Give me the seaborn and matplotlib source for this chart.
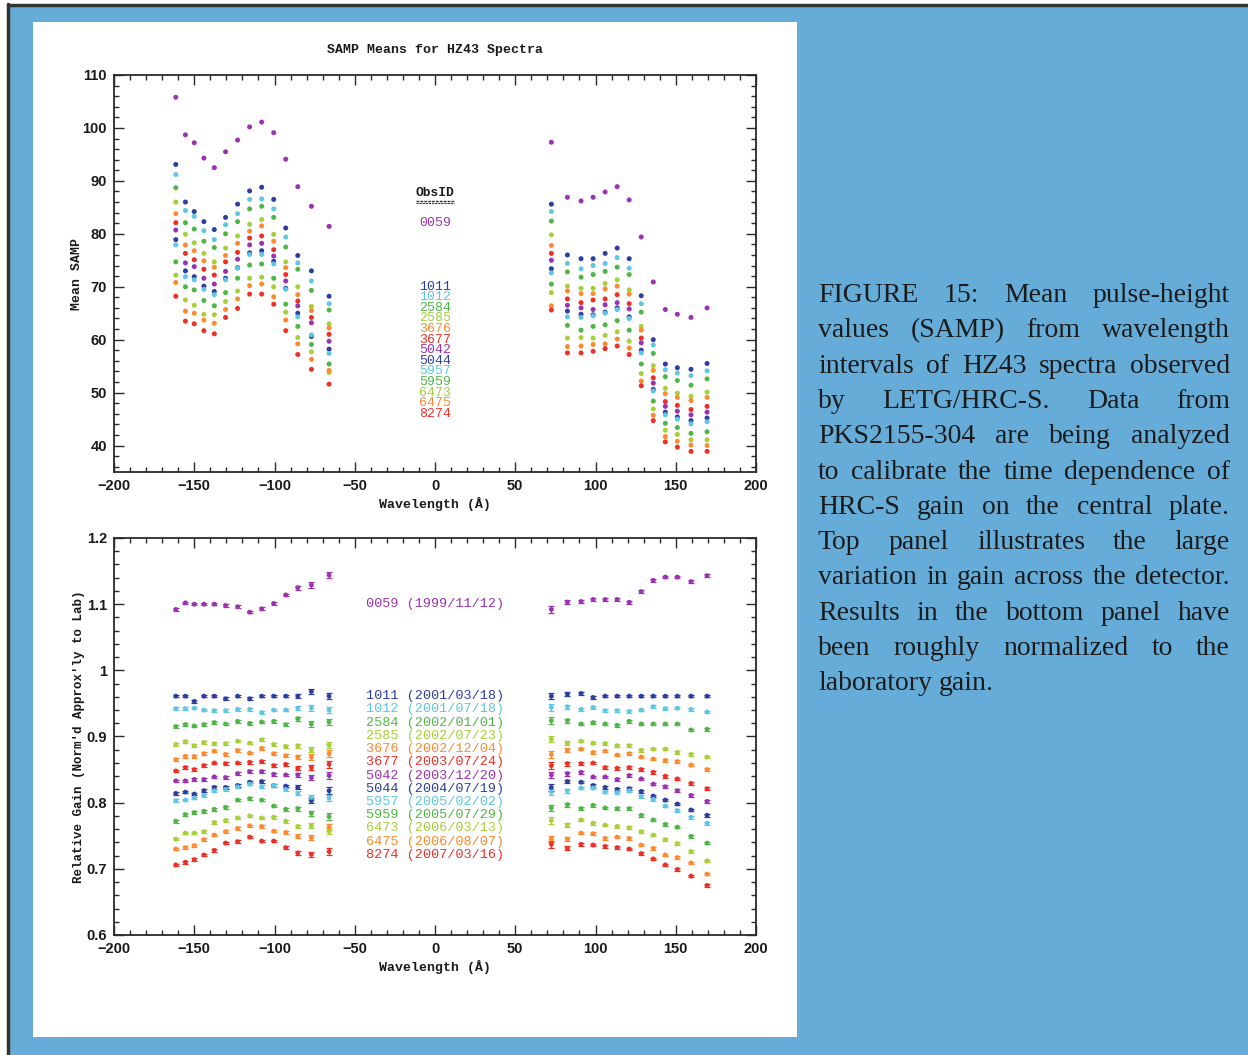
import numpy as np
import pandas as pd
import matplotlib
matplotlib.use("Agg")
import matplotlib.pyplot as plt
from matplotlib.patches import Rectangle
from matplotlib.lines import Line2D
from matplotlib.ticker import MultipleLocator, FuncFormatter
import seaborn as sns

# ---------------------------------------------------------------- data
WAVELENGTH = [-161.5, -155.5, -150.0, -144.0, -137.5, -130.5, -123.0, -115.5,
              -108.0, -100.5, -93.0, -85.5, -77.0, -66.0,
              72.5, 82.5, 91.0, 98.5, 106.0, 113.5, 121.0, 128.5, 136.0,
              143.5, 151.0, 159.5, 169.5]

OBSIDS = ["0059", "1011", "1012", "2584", "2585", "3676", "3677",
          "5042", "5044", "5957", "5959", "6473", "6475", "8274"]
DATES = ["1999/11/12", "2001/03/18", "2001/07/18", "2002/01/01", "2002/07/23",
         "2002/12/04", "2003/07/24", "2003/12/20", "2004/07/19", "2005/02/02",
         "2005/07/29", "2006/03/13", "2006/08/07", "2007/03/16"]

# Mean SAMP (top panel)
samp_0059 = [105.8, 98.7, 97.2, 94.3, 92.5, 95.5, 97.7, 100.2, 101.1, 99.1, 94.1, 88.9, 85.2, 81.4,
             97.3, 86.9, 86.2, 86.9, 87.9, 88.9, 86.4, 79.4, 70.9, 65.7, 64.8, 64.2, 66.0]
samp_1011 = [93.1, 86.0, 84.2, 82.3, 80.8, 83.1, 85.6, 88.1, 88.8, 86.5, 81.1, 75.9, 73.0, 68.2,
             85.6, 76.0, 75.3, 75.3, 76.3, 77.3, 75.3, 68.3, 60.0, 55.4, 54.7, 54.4, 55.5]
samp_1012 = [91.2, 84.4, 83.3, 80.6, 78.9, 81.7, 83.8, 86.5, 86.6, 84.7, 79.4, 74.5, 71.1, 66.8,
             84.2, 74.4, 73.4, 74.0, 74.4, 75.5, 73.5, 66.8, 59.0, 54.3, 53.7, 53.2, 54.1]
samp_2584 = [88.7, 82.1, 80.9, 78.6, 77.4, 80.0, 82.3, 84.7, 85.2, 83.1, 77.5, 73.3, 69.3, 65.6,
             82.4, 72.8, 71.8, 72.3, 72.9, 73.7, 72.3, 65.2, 57.4, 53.0, 52.3, 51.4, 52.6]
samp_2585 = [86.0, 79.9, 78.3, 76.3, 74.7, 77.3, 79.6, 81.8, 82.7, 79.9, 74.7, 70.0, 66.3, 63.0,
             79.8, 70.1, 69.7, 69.7, 70.6, 71.3, 69.4, 62.5, 55.1, 50.8, 49.9, 49.3, 50.1]
samp_3676 = [83.8, 77.9, 76.8, 74.9, 73.7, 75.9, 78.2, 80.5, 81.5, 78.6, 73.6, 68.5, 65.5, 62.2,
             77.8, 69.2, 68.7, 68.7, 69.6, 70.1, 68.6, 61.8, 54.2, 49.8, 49.1, 48.5, 49.1]
samp_3677 = [82.1, 76.3, 75.1, 73.3, 72.2, 74.7, 76.5, 79.2, 79.6, 77.0, 72.3, 67.3, 64.2, 61.0,
             76.3, 67.7, 67.0, 67.5, 67.7, 68.5, 66.8, 60.3, 52.8, 48.3, 47.6, 46.8, 47.4]
samp_5042 = [80.7, 74.5, 73.8, 71.6, 70.5, 72.9, 75.2, 77.9, 78.2, 75.8, 71.1, 66.4, 63.2, 59.7,
             75.0, 66.5, 66.0, 65.7, 66.6, 67.0, 65.8, 59.4, 51.8, 47.4, 46.5, 45.8, 46.3]
samp_5044 = [78.9, 73.0, 71.9, 70.1, 69.1, 71.6, 73.6, 76.4, 76.8, 74.8, 69.7, 65.0, 60.6, 58.2,
             73.4, 65.4, 64.8, 64.7, 65.2, 66.0, 64.3, 58.0, 50.6, 46.3, 45.4, 44.7, 45.2]
samp_5957 = [77.9, 71.9, 71.3, 69.5, 68.5, 71.3, 73.5, 76.1, 76.1, 74.3, 69.5, 64.3, 60.9, 57.4,
             72.6, 64.3, 64.2, 64.5, 65.0, 65.7, 64.0, 57.5, 50.3, 45.8, 45.0, 44.1, 44.5]
samp_5959 = [74.7, 70.0, 69.4, 67.4, 66.4, 68.9, 71.6, 74.1, 74.3, 71.6, 66.7, 62.5, 59.1, 55.4,
             70.5, 62.7, 61.8, 62.5, 62.8, 63.6, 61.8, 55.4, 48.4, 44.2, 43.4, 42.3, 42.6]
samp_6473 = [72.2, 67.5, 66.5, 64.8, 64.7, 67.2, 69.2, 71.6, 71.8, 70.0, 65.2, 60.4, 57.7, 53.8,
             68.9, 60.3, 60.4, 60.3, 60.8, 61.5, 59.7, 53.6, 46.9, 42.9, 42.1, 41.1, 41.1]
samp_6475 = [70.8, 65.4, 65.0, 63.7, 63.1, 65.7, 67.7, 70.2, 70.5, 68.1, 63.7, 59.2, 56.3, 54.2,
             66.4, 58.7, 58.8, 59.1, 59.2, 60.1, 58.4, 52.2, 45.7, 41.7, 40.8, 40.1, 40.0]
samp_8274 = [68.2, 63.5, 63.0, 61.7, 61.1, 64.2, 65.9, 68.6, 68.6, 66.7, 61.7, 57.2, 54.4, 51.6,
             65.6, 57.5, 57.5, 57.8, 58.3, 58.8, 57.2, 51.3, 44.7, 40.7, 39.7, 38.9, 38.9]

# Relative gain (bottom panel)
gain_0059 = [1.092, 1.102, 1.100, 1.100, 1.100, 1.098, 1.096, 1.088, 1.093, 1.101, 1.114, 1.125, 1.129, 1.144,
             1.092, 1.103, 1.104, 1.107, 1.107, 1.107, 1.103, 1.119, 1.136, 1.141, 1.141, 1.134, 1.143]
gain_1011 = [0.961, 0.961, 0.953, 0.961, 0.961, 0.957, 0.961, 0.957, 0.961, 0.961, 0.961, 0.961, 0.968, 0.961,
             0.961, 0.964, 0.965, 0.959, 0.961, 0.961, 0.961, 0.961, 0.961, 0.961, 0.961, 0.961, 0.961]
gain_1012 = [0.942, 0.942, 0.943, 0.940, 0.939, 0.939, 0.941, 0.941, 0.936, 0.940, 0.940, 0.943, 0.943, 0.940,
             0.944, 0.945, 0.941, 0.944, 0.939, 0.939, 0.938, 0.940, 0.945, 0.942, 0.943, 0.941, 0.937]
gain_2584 = [0.915, 0.918, 0.916, 0.918, 0.921, 0.919, 0.923, 0.920, 0.922, 0.923, 0.918, 0.927, 0.919, 0.922,
             0.924, 0.924, 0.919, 0.921, 0.919, 0.917, 0.923, 0.919, 0.919, 0.919, 0.919, 0.910, 0.911]
gain_2585 = [0.888, 0.892, 0.886, 0.891, 0.889, 0.889, 0.893, 0.890, 0.895, 0.888, 0.885, 0.886, 0.880, 0.887,
             0.896, 0.890, 0.893, 0.890, 0.889, 0.886, 0.886, 0.879, 0.881, 0.881, 0.876, 0.873, 0.869]
gain_3676 = [0.865, 0.870, 0.870, 0.874, 0.878, 0.873, 0.879, 0.875, 0.882, 0.874, 0.871, 0.869, 0.869, 0.874,
             0.873, 0.879, 0.881, 0.876, 0.878, 0.872, 0.874, 0.869, 0.866, 0.864, 0.862, 0.857, 0.850]
gain_3677 = [0.848, 0.853, 0.850, 0.856, 0.860, 0.859, 0.860, 0.861, 0.862, 0.856, 0.858, 0.852, 0.853, 0.858,
             0.856, 0.859, 0.859, 0.860, 0.853, 0.852, 0.853, 0.850, 0.846, 0.840, 0.836, 0.829, 0.821]
gain_5042 = [0.833, 0.833, 0.835, 0.835, 0.839, 0.838, 0.844, 0.847, 0.847, 0.843, 0.842, 0.842, 0.838, 0.841,
             0.842, 0.844, 0.846, 0.839, 0.839, 0.835, 0.841, 0.836, 0.828, 0.824, 0.818, 0.811, 0.802]
gain_5044 = [0.814, 0.816, 0.813, 0.818, 0.823, 0.823, 0.826, 0.831, 0.832, 0.826, 0.825, 0.823, 0.803, 0.818,
             0.823, 0.832, 0.831, 0.826, 0.823, 0.820, 0.821, 0.817, 0.810, 0.804, 0.798, 0.789, 0.781]
gain_5957 = [0.803, 0.804, 0.807, 0.811, 0.818, 0.820, 0.824, 0.828, 0.824, 0.826, 0.820, 0.814, 0.808, 0.807,
             0.816, 0.818, 0.822, 0.822, 0.816, 0.815, 0.818, 0.809, 0.805, 0.795, 0.788, 0.778, 0.769]
gain_5959 = [0.772, 0.782, 0.785, 0.787, 0.790, 0.793, 0.804, 0.806, 0.804, 0.795, 0.790, 0.791, 0.784, 0.779,
             0.792, 0.797, 0.791, 0.796, 0.792, 0.791, 0.791, 0.781, 0.774, 0.767, 0.763, 0.749, 0.739]
gain_6473 = [0.745, 0.754, 0.754, 0.756, 0.770, 0.773, 0.777, 0.780, 0.777, 0.778, 0.772, 0.764, 0.765, 0.757,
             0.773, 0.766, 0.774, 0.769, 0.766, 0.764, 0.762, 0.756, 0.751, 0.744, 0.738, 0.726, 0.712]
gain_6475 = [0.730, 0.732, 0.735, 0.744, 0.751, 0.756, 0.761, 0.765, 0.764, 0.757, 0.755, 0.749, 0.747, 0.763,
             0.745, 0.745, 0.754, 0.753, 0.746, 0.748, 0.746, 0.736, 0.731, 0.721, 0.717, 0.709, 0.692]
gain_8274 = [0.706, 0.710, 0.714, 0.721, 0.728, 0.739, 0.741, 0.748, 0.742, 0.742, 0.732, 0.724, 0.722, 0.726,
             0.737, 0.731, 0.737, 0.736, 0.734, 0.732, 0.730, 0.723, 0.715, 0.706, 0.699, 0.689, 0.675]

# approximate half-size of error bars per wavelength bin
GAIN_ERR = [0.002, 0.002, 0.002, 0.002, 0.002, 0.002, 0.002, 0.002, 0.002, 0.002, 0.002, 0.003, 0.004, 0.005,
            0.005, 0.003, 0.002, 0.002, 0.002, 0.002, 0.002, 0.002, 0.002, 0.002, 0.002, 0.002, 0.002]

SAMP = [samp_0059, samp_1011, samp_1012, samp_2584, samp_2585, samp_3676, samp_3677,
        samp_5042, samp_5044, samp_5957, samp_5959, samp_6473, samp_6475, samp_8274]
GAIN = [gain_0059, gain_1011, gain_1012, gain_2584, gain_2585, gain_3676, gain_3677,
        gain_5042, gain_5044, gain_5957, gain_5959, gain_6473, gain_6475, gain_8274]

CAPTION = ["FIGURE 15: Mean pulse-height",
           "values (SAMP) from wavelength",
           "intervals of HZ43 spectra observed",
           "by LETG/HRC-S. Data from",
           "PKS2155-304 are being analyzed",
           "to calibrate the time dependence of",
           "HRC-S gain on the central plate.",
           "Top panel illustrates the large",
           "variation in gain across the detector.",
           "Results in the bottom panel have",
           "been roughly normalized to the",
           "laboratory gain."]

# ---------------------------------------------------------------- style
PURPLE, BLUE, CYAN, GREEN, LIME, ORANGE, RED = (
    "#9b33b1", "#2e3e9e", "#5fc6e4", "#4fb646", "#a6cf3a", "#fd8a2e", "#ee2f26")
COLORS = [PURPLE, BLUE, CYAN, GREEN, LIME, ORANGE, RED,
          PURPLE, BLUE, CYAN, GREEN, LIME, ORANGE, RED]
PALETTE = dict(zip(OBSIDS, COLORS))

sns.set_style("ticks")
plt.rcParams["font.family"] = ["DejaVu Sans"]
MONO = "Liberation Mono"
TICKFONT = "Liberation Sans"
FRAME = "#2a2a2a"
BG_BLUE = "#66acd8"

W, H = 1248, 1055
fig = plt.figure(figsize=(W / 100, H / 100), dpi=100, facecolor="white")


def px(x0, y0, x1, y1):
    return (x0 / W, 1 - y1 / H, (x1 - x0) / W, (y1 - y0) / H)


# background: blue page with dark top/left rule and white plot panel
fig.add_artist(Rectangle((7 / W, 0), 1, 1 - 4 / H, transform=fig.transFigure,
                         facecolor=BG_BLUE, edgecolor="none", zorder=0))
fig.add_artist(Line2D([7.5 / W, 7.5 / W], [0, 1 - 3.5 / H], transform=fig.transFigure,
                      color="#333333", lw=2.5, zorder=1))
fig.add_artist(Line2D([7.5 / W, 1], [1 - 4.5 / H, 1 - 4.5 / H], transform=fig.transFigure,
                      color="#333333", lw=2.5, zorder=1))
fig.add_artist(Rectangle((33 / W, 1 - 1037 / H), (797 - 33) / W, (1037 - 22) / H,
                         transform=fig.transFigure, facecolor="white",
                         edgecolor="none", zorder=1))

# long data frame
rows = []
for oid, samp, gain in zip(OBSIDS, SAMP, GAIN):
    for w, s, g in zip(WAVELENGTH, samp, gain):
        rows.append((oid, w, s, g))
df = pd.DataFrame(rows, columns=["obsid", "wavelength", "samp", "gain"])

ax_top = fig.add_axes(px(114, 75, 756, 472))
ax_bot = fig.add_axes(px(114, 538, 756, 935))

for ax in (ax_top, ax_bot):
    ax.set_zorder(2)
    ax.set_facecolor("white")

# top panel points
sns.scatterplot(data=df, x="wavelength", y="samp", hue="obsid", palette=PALETTE,
                hue_order=OBSIDS, s=13, marker="o", linewidth=0, legend=False,
                ax=ax_top, zorder=3)

# bottom panel error bars + points
for oid, gain, col in zip(OBSIDS, GAIN, COLORS):
    ax_bot.errorbar(WAVELENGTH, gain, yerr=GAIN_ERR, fmt="none", ecolor=col,
                    elinewidth=0.9, capsize=2.0, capthick=0.9, zorder=2)
sns.scatterplot(data=df, x="wavelength", y="gain", hue="obsid", palette=PALETTE,
                hue_order=OBSIDS, s=12, marker="o", linewidth=0, legend=False,
                ax=ax_bot, zorder=3)

# axes formatting
for ax in (ax_top, ax_bot):
    ax.set_xlim(-200, 200)
    ax.xaxis.set_major_locator(MultipleLocator(50))
    ax.xaxis.set_minor_locator(MultipleLocator(10))
    ax.tick_params(which="both", direction="in", top=True, right=True,
                   color=FRAME, width=1.0, labelcolor="#1a1a1a")
    ax.tick_params(which="major", length=7, pad=5)
    ax.tick_params(which="minor", length=3.5)
    for lab in ax.get_xticklabels() + ax.get_yticklabels():
        lab.set_fontfamily(TICKFONT)
        lab.set_fontweight("bold")
        lab.set_fontsize(10.5)
    for sp in ax.spines.values():
        sp.set_color(FRAME)
        sp.set_linewidth(1.3)
    ax.set_xlabel("Wavelength (Å)", family=MONO, weight="bold", fontsize=9.5,
                  color="#1a1a1a", labelpad=3)

ax_top.set_ylim(35, 110)
ax_top.yaxis.set_major_locator(MultipleLocator(10))
ax_top.yaxis.set_minor_locator(MultipleLocator(2))
ax_top.set_ylabel("Mean SAMP", family=MONO, weight="bold", fontsize=9.5,
                  color="#1a1a1a", labelpad=0)

ax_bot.set_ylim(0.6, 1.2)
ax_bot.yaxis.set_major_locator(MultipleLocator(0.1))
ax_bot.yaxis.set_minor_locator(MultipleLocator(0.02))
ax_bot.yaxis.set_major_formatter(FuncFormatter(lambda v, p: "%g" % round(v, 2)))
ax_bot.set_ylabel("Relative Gain (Norm'd Approx'ly to Lab)", family=MONO,
                  weight="bold", fontsize=9.0, color="#1a1a1a", labelpad=1)

for ax in (ax_top, ax_bot):
    for lab in ax.get_xticklabels() + ax.get_yticklabels():
        lab.set_fontfamily(TICKFONT)
        lab.set_fontweight("bold")
        lab.set_fontsize(10.5)

fig.text(435 / W, 1 - 50 / H, "SAMP Means for HZ43 Spectra", family=MONO,
         weight="bold", fontsize=9.5, ha="center", va="center", color="#1a1a1a")

# in-plot ObsID key (top)
obs_txt = ax_top.text(0, 87.7, "ObsID", family=MONO, weight="bold", fontsize=9.3,
                      ha="center", va="center", color="#1a1a1a")
ax_top.text(0, 82.1, OBSIDS[0], family=MONO, fontsize=9.5, ha="center",
            va="center", color=COLORS[0])
for k, (oid, col) in enumerate(zip(OBSIDS[1:], COLORS[1:])):
    ax_top.text(0, 70.0 - 2.0 * k, oid, family=MONO, fontsize=9.5, ha="center",
                va="center", color=col)

# in-plot ObsID/date key (bottom)
ax_bot.text(0, 1.1, f"{OBSIDS[0]} ({DATES[0]})", family=MONO, fontsize=9.7,
            ha="center", va="center", color=COLORS[0])
for k, (oid, d, col) in enumerate(zip(OBSIDS[1:], DATES[1:], COLORS[1:])):
    ax_bot.text(0, 0.961 - 0.02 * k, f"{oid} ({d})", family=MONO, fontsize=9.7,
                ha="center", va="center", color=col)

# underline under "ObsID"
fig.canvas.draw()
renderer = fig.canvas.get_renderer()
bb = obs_txt.get_window_extent(renderer)
uy = bb.y0 - 2
fig.add_artist(Line2D([bb.x0 / W, bb.x1 / W], [uy / H, uy / H],
                      transform=fig.transFigure, color="#333333", lw=1.0,
                      linestyle=(0, (2, 0.8)), zorder=5))
fig.add_artist(Line2D([bb.x0 / W, bb.x1 / W], [(uy - 2) / H, (uy - 2) / H],
                      transform=fig.transFigure, color="#333333", lw=0.8,
                      linestyle=(0, (2, 0.8)), zorder=5))

# justified caption
SERIF = "Liberation Serif"
CAP_X0, CAP_X1 = 818, 1230
CAP_W = CAP_X1 - CAP_X0


def text_width(s, fs):
    t = fig.text(0, 0, s, fontsize=fs, family=SERIF)
    w = t.get_window_extent(renderer).width
    t.remove()
    return w


fs = 20.0
widest = max(text_width(line, fs) for line in CAPTION)
if widest > CAP_W:
    fs = fs * CAP_W / widest
space_w = text_width("a a", fs) - text_width("aa", fs)

for i, line in enumerate(CAPTION):
    base_y = 302 + i * 35.3
    words = line.split()
    widths = [text_width(wd, fs) for wd in words]
    if i < len(CAPTION) - 1 and len(words) > 1:
        gap = (CAP_W - sum(widths)) / (len(words) - 1)
    else:
        gap = space_w
    x = CAP_X0
    for wd, wdt in zip(words, widths):
        fig.text(x / W, 1 - base_y / H, wd, fontsize=fs, family=SERIF,
                 color="#1c1c1c", ha="left", va="baseline")
        x += wdt + gap

fig.savefig("out.png", dpi=100, facecolor=fig.get_facecolor())
